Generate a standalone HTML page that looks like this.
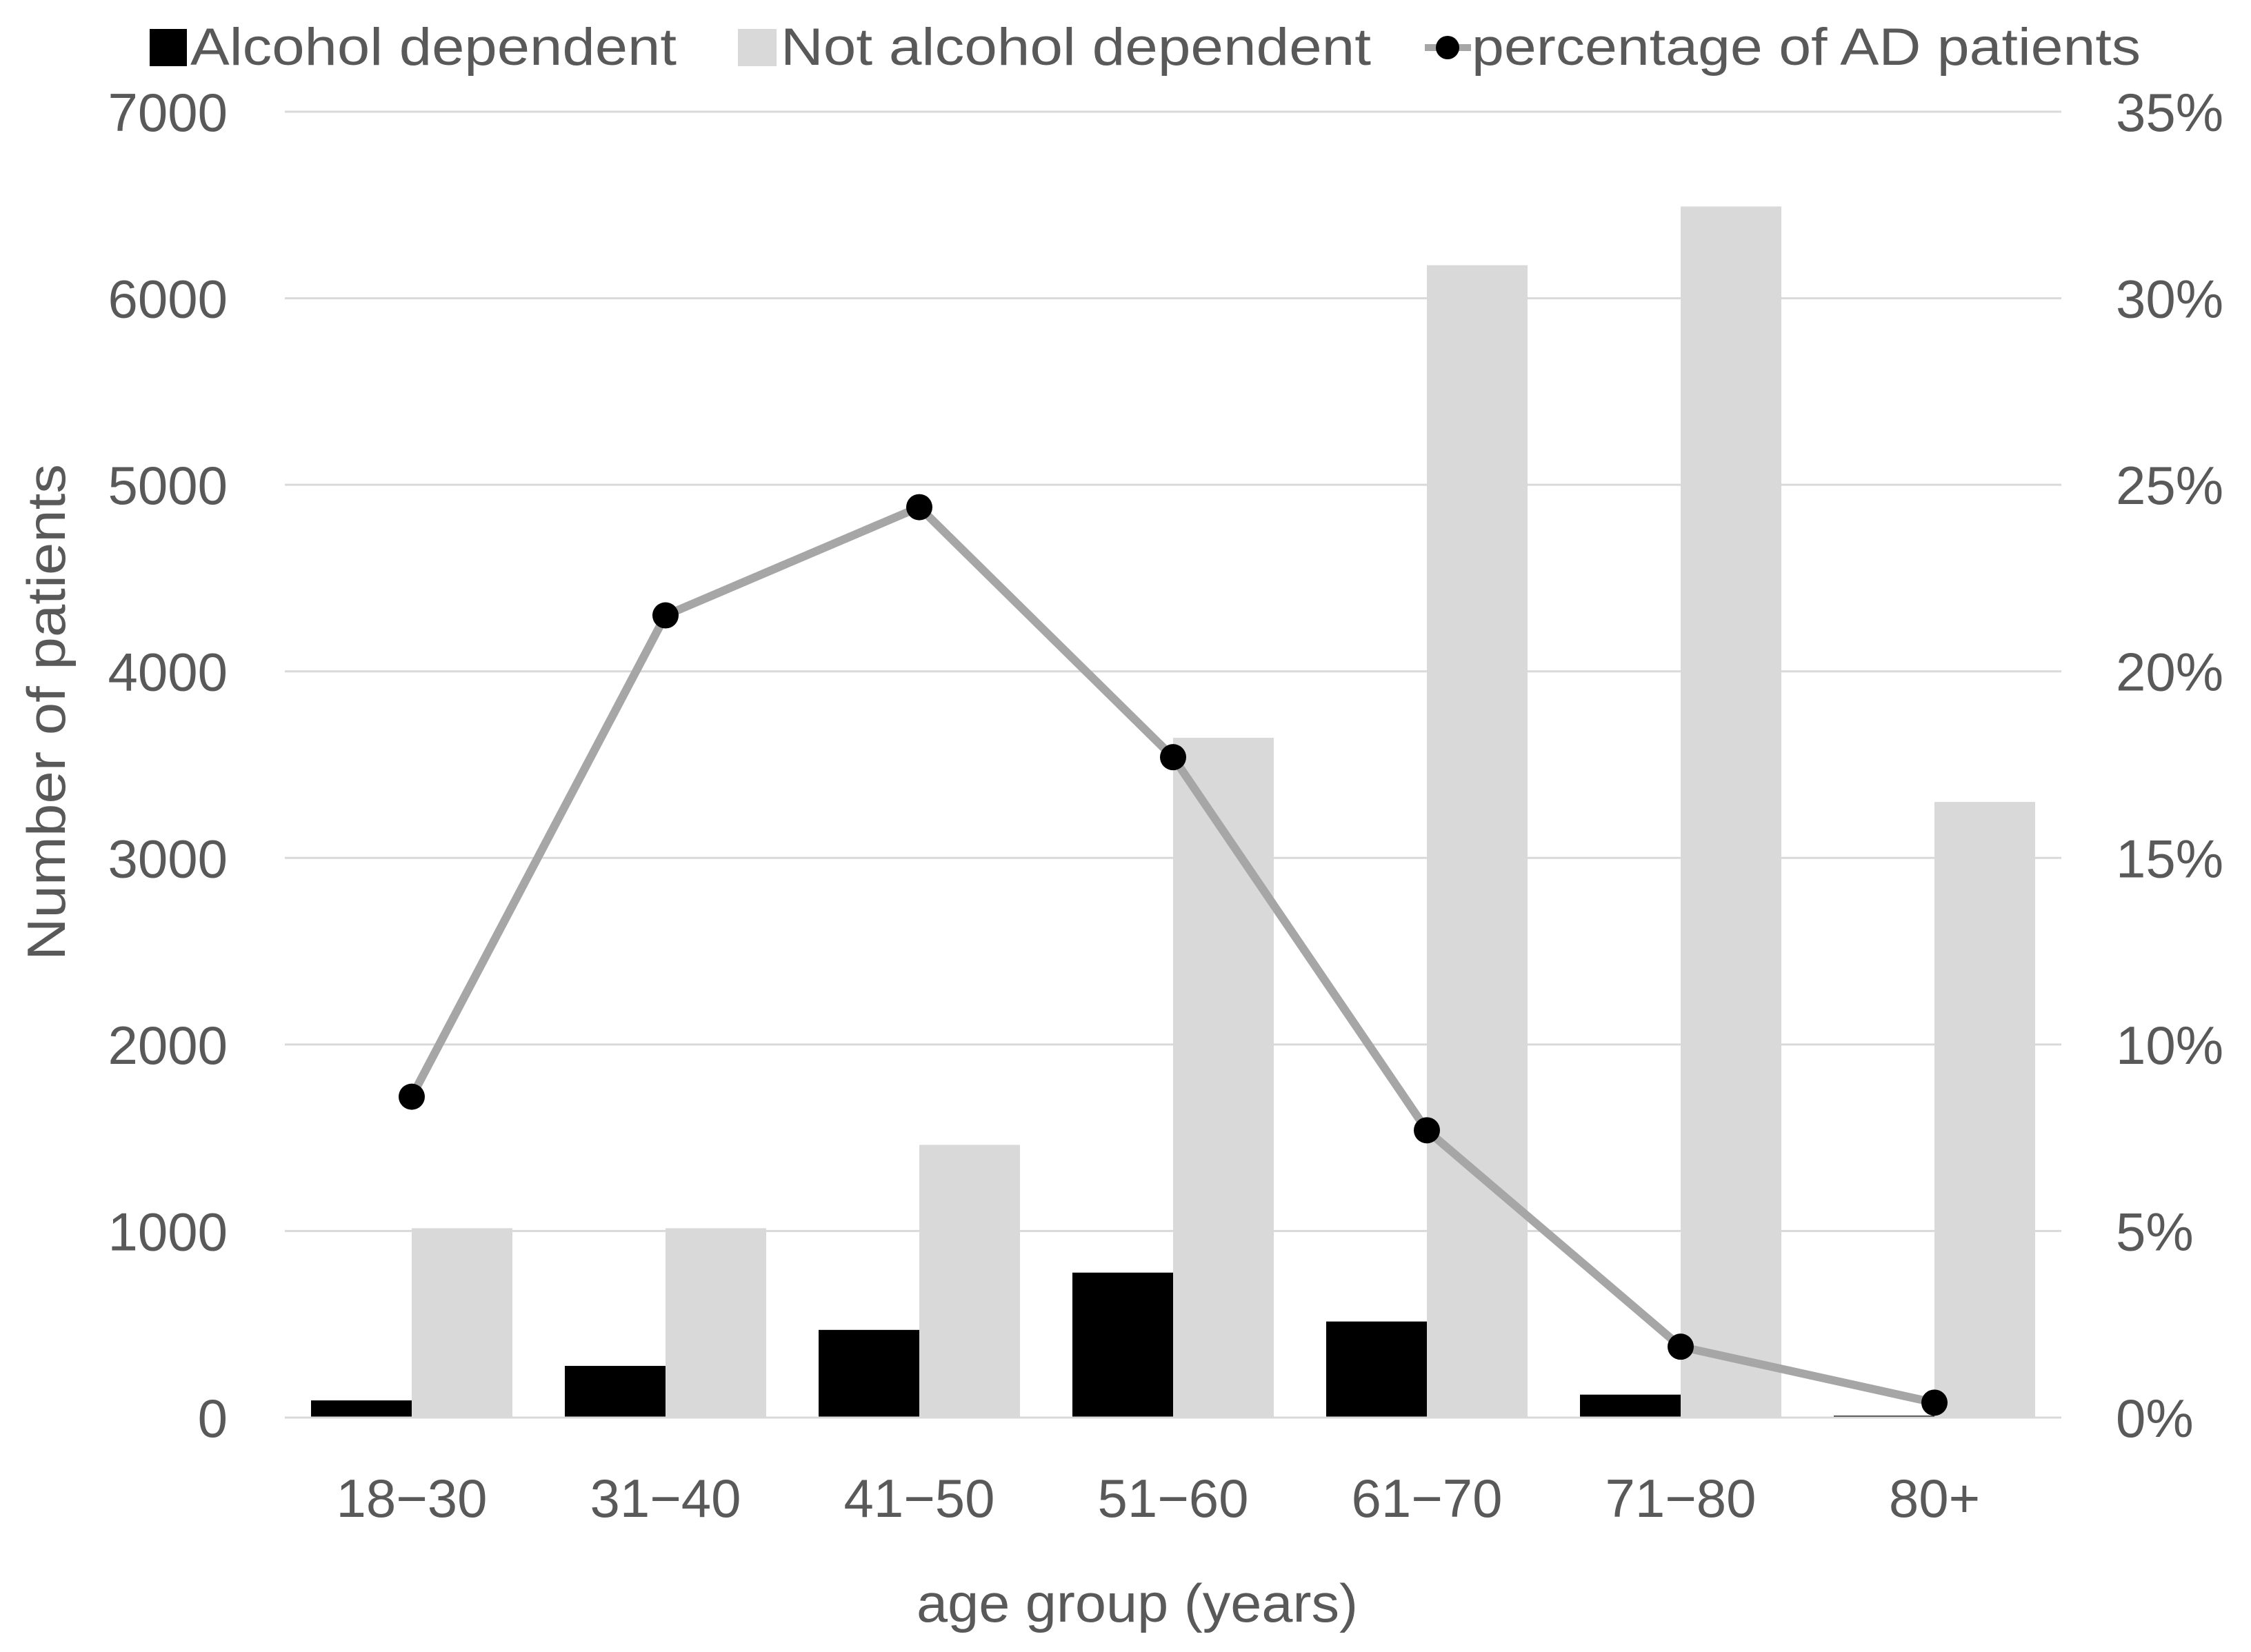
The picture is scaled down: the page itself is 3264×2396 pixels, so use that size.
<!DOCTYPE html>
<html><head><meta charset="utf-8"><style>
html,body{margin:0;padding:0;background:#fff;}
svg{display:block;font-family:"Liberation Sans",sans-serif;}
</style></head><body>
<svg id="chart" width="3264" height="2396" viewBox="0 0 3264 2396" xmlns="http://www.w3.org/2000/svg">
<g id="legend" font-size="76" fill="#595959">
  <g>
    <rect x="217" y="42" width="54" height="54" fill="#000"/>
    <text x="276" y="94" textLength="705" lengthAdjust="spacingAndGlyphs">Alcohol dependent</text>
  </g>
  <g>
    <rect x="1070" y="42" width="56" height="54" fill="#d9d9d9"/>
    <text x="1132" y="94" textLength="856" lengthAdjust="spacingAndGlyphs">Not alcohol dependent</text>
  </g>
  <g>
    <line x1="2066" y1="69" x2="2133" y2="69" stroke="#a6a6a6" stroke-width="10"/>
    <circle cx="2099" cy="69" r="17" fill="#000"/>
    <text x="2134" y="94" textLength="970" lengthAdjust="spacingAndGlyphs">percentage of AD patients</text>
  </g>
</g>
<g id="grid"></g>
<g id="bars"></g>
<g id="line"></g>
<g id="ticks" font-size="78" fill="#595959"></g>
<text x="1649" y="2352" text-anchor="middle" font-size="78" fill="#595959" textLength="640" lengthAdjust="spacingAndGlyphs">age group (years)</text>
<text transform="translate(94,1033) rotate(-90)" text-anchor="middle" font-size="78" fill="#595959" textLength="720" lengthAdjust="spacingAndGlyphs">Number of patients</text>
</svg>
<script>
const categories = ["18\u221230","31\u221240","41\u221250","51\u221260","61\u221270","71\u221280","80+"];
const alcoholDependent = [92, 277, 470, 777, 515, 123, 10];
const notAlcoholDependent = [1015, 1015, 1462, 3644, 6177, 6492, 3300];
const percentAD = [8.6, 21.5, 24.4, 17.7, 7.7, 1.9, 0.4];
const leftTicks = [0, 1000, 2000, 3000, 4000, 5000, 6000, 7000];
const rightTicks = [0, 5, 10, 15, 20, 25, 30, 35];

const NS = "http://www.w3.org/2000/svg";
const X0 = 413, X1 = 2989, Y0 = 2056, YT = 162;
const bandW = (X1 - X0) / categories.length;
const barW = 146;
function yLeft(v){ return Y0 - (v / 7000) * (Y0 - YT); }
function yRight(p){ return Y0 - (p / 35) * (Y0 - YT); }
function xCenter(i){ return X0 + bandW * (i + 0.5); }
function mk(tag, attrs, parent){
  const el = document.createElementNS(NS, tag);
  for (const k in attrs) el.setAttribute(k, attrs[k]);
  parent.appendChild(el);
  return el;
}
const grid = document.getElementById('grid');
const bars = document.getElementById('bars');
const line = document.getElementById('line');
const ticks = document.getElementById('ticks');

leftTicks.forEach((t, i) => {
  const y = yLeft(t);
  const g = mk('line', {x1: X0, x2: X1, y1: y, y2: y, stroke: '#d9d9d9', 'stroke-width': 3}, grid);
  
  
  const lt = mk('text', {x: 330, y: y + 28, 'text-anchor': 'end'}, ticks);
  lt.textContent = String(t);
  
  
});
rightTicks.forEach(t => {
  const y = yRight(t);
  const rt = mk('text', {x: 3068, y: y + 28, 'text-anchor': 'start'}, ticks);
  rt.textContent = t + '%';
  
  
});

categories.forEach((c, i) => {
  const cx = xCenter(i);
  const b1 = mk('rect', {x: cx - barW, y: yLeft(alcoholDependent[i]), width: barW, height: Y0 - yLeft(alcoholDependent[i]), fill: '#000'}, bars);
  
  
  const b2 = mk('rect', {x: cx, y: yLeft(notAlcoholDependent[i]), width: barW, height: Y0 - yLeft(notAlcoholDependent[i]), fill: '#d9d9d9'}, bars);
  
  
  const xl = mk('text', {x: cx, y: 2200, 'text-anchor': 'middle'}, ticks);
  xl.textContent = c;
  
  
});
const ax = mk('line', {x1: X0, x2: X1, y1: Y0, y2: Y0, stroke: '#d9d9d9', 'stroke-width': 3}, bars);



const pts = percentAD.map((p, i) => xCenter(i) + ',' + yRight(p)).join(' ');
const pl = mk('polyline', {points: pts, fill: 'none', stroke: '#a6a6a6', 'stroke-width': 12, 'stroke-linejoin': 'round'}, line);


percentAD.forEach((p, i) => {
  const d = mk('circle', {cx: xCenter(i), cy: yRight(p), r: 19, fill: '#000'}, line);
  
  
});
</script>
</body></html>
